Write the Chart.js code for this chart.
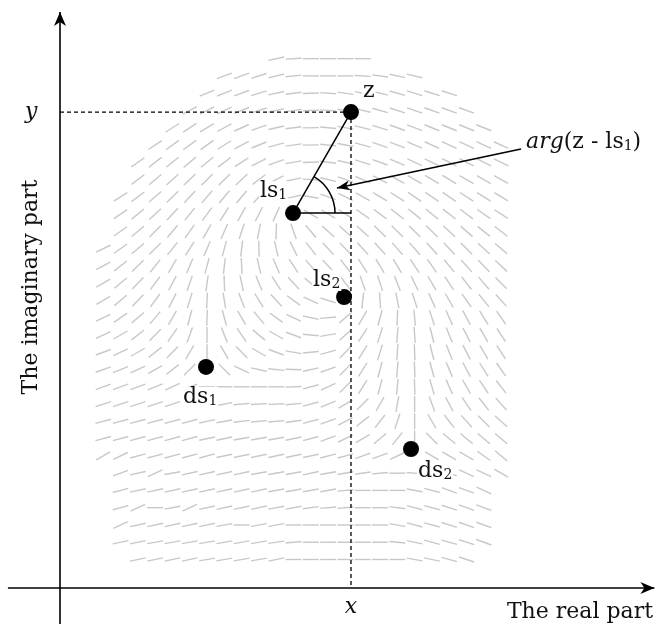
<!DOCTYPE html>
<html lang="en">
<head>
<meta charset="UTF-8">
<title>Orientation field and singular points</title>
<style>
    body {
        margin: 0;
        background: #fff;
    }
    #wrap {
        width: 656px;
        height: 624px;
    }
</style>
</head>
<body>
<div id="wrap">
    <canvas id="plane" width="656" height="624"></canvas>
</div>

<script src="https://cdn.jsdelivr.net/npm/chart.js@4"></script>
<script>
    // one unit = one step of the orientation grid, origin where the two axes cross
    const colX = [2.5, 3.5, 4.5, 5.5, 6.5, 7.5, 8.5, 9.5, 10.5, 11.5, 12.5, 13.5,
                  14.5, 15.5, 16.5, 17.5, 18.5, 19.5, 20.5, 21.5, 22.5, 23.5, 24.5, 25.5];
    const rowY = [30.65, 29.65, 28.65, 27.65, 26.65, 25.65, 24.65, 23.65, 22.65, 21.65,
                  20.65, 19.65, 18.65, 17.65, 16.65, 15.65, 14.65, 13.65, 12.65, 11.65,
                  10.65, 9.65, 8.65, 7.65, 6.65, 5.65, 4.65, 3.65, 2.65, 1.65];
    // first column used by each row
    const rowStart = [10, 7, 6, 5, 4, 3, 2, 2, 1, 1, 1, 0, 0, 0, 0, 0, 0, 0, 0, 0, 0, 0, 0, 0, 1, 1, 1, 1, 1, 2];
    // ridge direction in degrees (counter-clockwise from the real axis), null = under a dot
    const rowAngles = [
        [12, 3, 0, 0, 0, 0],
        [20, 20, 18, 14, 6, 0, 0, 0, -3, -8, -12, -13],
        [22, 22, 20, 17, 12, 7, 2, -4, -8, -11, -14, -16, -17, -18, -18],
        [28, 27, 25, 22, 18, 13, 8, 2, -4, -9, -13, -16, -18, -19, -20, -20, -20],
        [32, 33, 31, 28, 24, 19, 13, 7, 1, -5, -10, -14, -17, -20, -21, -22, -22, -22, -22],
        [34, 36, 36, 35, 32, 28, 22, 15, 8, 1, -6, -11, -15, -19, -21, -23, -24, -25, -25, -25, -24],
        [35, 38, 39, 40, 39, 37, 33, 27, 19, 10, 2, -7, -13, -17, -20, -23, -25, -26, -27, -27, -27, -26],
        [37, 40, 42, 44, 45, 45, 43, 37, 27, 12, -3, -13, -19, -24, -27, -29, -30, -31, -31, -30, -30, -29],
        [32, 37, 41, 44, 47, 49, 50, 50, 47, 37, 13, -10, -20, -26, -29, -31, -33, -34, -34, -34, -33, -32, -31],
        [34, 39, 43, 47, 51, 54, 57, 60, 63, 66, null, -30, -31, -33, -35, -37, -38, -39, -39, -38, -37, -35, -33],
        [35, 40, 45, 50, 55, 60, 66, 72, 79, 88, -70, -50, -42, -42, -43, -44, -45, -45, -44, -43, -41, -39, -37],
        [25, 35, 40, 45, 51, 58, 66, 75, 83, -88, -77, -64, -52, -47, -46, -47, -48, -49, -49, -48, -47, -45, -43, -40],
        [28, 38, 44, 52, 60, 67, 75, 83, -87, -77, -67, -57, -49, -47, -52, -57, -59, -59, -57, -55, -51, -48, -46, -43],
        [30, 40, 46, 53, 62, 71, 82, -88, -78, -68, -57, -47, -39, -38, -53, -71, -72, -69, -65, -60, -56, -52, -49, -45],
        [30, 40, 46, 54, 63, 73, 87, -81, -69, -58, -47, -36, -24, -18, null, 84, -86, -79, -72, -66, -60, -55, -51, -48],
        [25, 35, 40, 50, 60, 75, 88, -75, -60, -50, -36, -25, -12, 5, 40, 60, 75, 88, -85, -72, -66, -62, -58, -55],
        [25, 30, 38, 45, 55, 70, 90, -68, -55, -40, -30, -20, -5, 10, 42, 57, 72, 85, -86, -76, -68, -63, -60, -57],
        [20, 25, 30, 38, 45, 60, 90, -60, -45, -30, -20, -10, 5, 15, 45, 58, 73, 86, -88, -76, -68, -63, -60, -57],
        [20, 22, 25, 30, 38, 45, null, -45, -25, -12, -6, -2, 12, 20, 45, 58, 75, 85, -88, -75, -67, -62, -58, -55],
        [20, 20, 20, 22, 25, 20, 0, 0, 0, 0, 0, 2, 15, 25, 45, 58, 75, 85, -88, -74, -66, -60, -56, -52],
        [18, 18, 18, 18, 18, 15, 12, 10, 5, 3, 2, 5, 15, 22, 30, 45, 60, 80, 90, -70, -62, -56, -52, -48],
        [15, 15, 15, 15, 15, 15, 12, 10, 7, 5, 5, 8, 15, 20, 28, 38, 52, 72, 90, -60, -52, -48, -45, -42],
        [15, 15, 15, 15, 15, 15, 12, 12, 10, 10, 10, 12, 15, 20, 25, 30, 40, 52, 90, -45, -40, -40, -40, -40],
        [30, 25, 15, 15, 15, 15, 15, 12, 12, 12, 12, 12, 12, 15, 15, 20, 20, 25, null, -30, -30, -30, -35, -40],
        [20, 12, 25, 10, 12, 12, 12, 12, 10, 10, 10, 12, 10, 10, 8, 5, 0, -5, -15, -20, -25, -25, -30],
        [15, 12, 12, 12, 12, 12, 12, 12, 12, 10, 10, 10, 10, 5, 0, 0, 0, -10, -15, -20, -20, -25],
        [15, 25, 0, 10, 25, 12, 12, 12, 12, 10, 10, 8, 5, 5, 0, 0, -8, -15, -15, -18, -20, -20],
        [25, 12, 12, 12, 12, 12, 10, 0, 10, 10, 0, 0, 0, 0, 0, 0, -10, -15, -15, -18, -20, -20],
        [12, 12, 10, 10, 10, 10, 10, 10, 10, 8, 5, 0, 0, 0, 0, 0, -5, -12, -15, -15, -18, -20],
        [12, 12, 12, 12, 10, 10, 10, 10, 12, 0, 0, 0, 0, 0, 0, 0, -10, -12, -15, -18]
    ];

    // the point z and the singular points
    const pointNames = ['z', 'ls1', 'ls2', 'ds1', 'ds2'];
    const pointX = [16.82, 13.47, 16.42, 8.44, 20.29];
    const pointY = [27.56, 21.71, 16.85, 12.80, 8.05];

    // annotation arrow: from the label to the angle arc
    const arrowFrom = [26.65, 25.42];
    const arrowTo = [16.01, 23.16];

    // axes
    const realAxis = [-3.01, 34.36];
    const imagAxis = [-2.1, 33.35];

    const serif = '"DejaVu Serif", "Liberation Serif", serif';

    const field = [];
    const fieldRotation = [];
    rowAngles.forEach(function(row, r) {
        row.forEach(function(a, k) {
            if (a === null) return;
            field.push({ x: colX[rowStart[r] + k], y: rowY[r] });
            fieldRotation.push(-a);
        });
    });

    const pz = { x: pointX[0], y: pointY[0] };
    const pls1 = { x: pointX[1], y: pointY[1] };

    function seg(data, width, dash) {
        return {
            data: data,
            showLine: true,
            borderColor: '#000',
            borderWidth: width,
            borderDash: dash || [],
            pointRadius: 0,
            order: 5
        };
    }

    function arrowHead(ctx, tx, ty, fx, fy, len, half) {
        const a = Math.atan2(ty - fy, tx - fx);
        ctx.save();
        ctx.translate(tx, ty);
        ctx.rotate(a);
        ctx.beginPath();
        ctx.moveTo(0, 0);
        ctx.lineTo(-len, -half);
        ctx.lineTo(-len * 0.72, 0);
        ctx.lineTo(-len, half);
        ctx.closePath();
        ctx.fillStyle = '#000';
        ctx.fill();
        ctx.restore();
    }

    // text made of pieces: [text, size, italic, shift down]
    function rich(ctx, parts, x, y, align, backing) {
        let w = 0;
        parts.forEach(function(p) {
            ctx.font = (p[2] ? 'italic ' : '') + p[1] + 'px ' + serif;
            p.w = ctx.measureText(p[0]).width;
            w += p.w;
        });
        let left = x;
        if (align === 'right') left = x - w;
        if (align === 'center') left = x - w / 2;
        if (backing) {
            ctx.fillStyle = '#fff';
            ctx.fillRect(left - 1, y - 16, w + 2, 21);
        }
        ctx.fillStyle = '#111';
        ctx.textBaseline = 'alphabetic';
        ctx.textAlign = 'left';
        parts.forEach(function(p) {
            ctx.font = (p[2] ? 'italic ' : '') + p[1] + 'px ' + serif;
            ctx.fillText(p[0], left, y + p[3]);
            left += p.w;
        });
    }

    const decor = {
        id: 'decor',
        afterDatasetsDraw: function(chart) {
            const ctx = chart.ctx;
            const sx = chart.scales.x, sy = chart.scales.y;
            const X = v => sx.getPixelForValue(v);
            const Y = v => sy.getPixelForValue(v);

            // axis arrow heads
            arrowHead(ctx, X(realAxis[1]), Y(0), X(0), Y(0), 14, 6);
            arrowHead(ctx, X(0), Y(imagAxis[1]), X(0), Y(0), 14, 6);

            // angle arc at ls1
            const cx = X(pls1.x), cy = Y(pls1.y);
            const end = Math.atan2(Y(pz.y) - cy, X(pz.x) - cx);
            ctx.save();
            ctx.beginPath();
            ctx.arc(cx, cy, 42, end, 0, false);
            ctx.strokeStyle = '#000';
            ctx.lineWidth = 1.5;
            ctx.stroke();
            ctx.restore();

            // annotation arrow head
            arrowHead(ctx, X(arrowTo[0]), Y(arrowTo[1]), X(arrowFrom[0]), Y(arrowFrom[1]), 13, 5);

            // point labels
            const zx = X(pz.x), zy = Y(pz.y);
            rich(ctx, [['z', 22, false, 0]], zx + 12, zy - 15, 'left', true);
            rich(ctx, [['ls', 22, false, 0], ['1', 14, false, 2]], X(pointX[1]) - 33, Y(pointY[1]) - 16, 'left', true);
            rich(ctx, [['ls', 22, false, 0], ['2', 14, false, 2]], X(pointX[2]) - 31, Y(pointY[2]) - 11, 'left', true);
            rich(ctx, [['ds', 22, false, 0], ['1', 14, false, 2]], X(pointX[3]) - 23, Y(pointY[3]) + 36, 'left', true);
            rich(ctx, [['ds', 22, false, 0], ['2', 14, false, 2]], X(pointX[4]) + 7, Y(pointY[4]) + 28, 'left', true);

            rich(ctx, [['arg', 22, true, 0], ['(z - ls', 22, false, 0], ['1', 14, false, 2], [')', 22, false, 0]],
                 X(arrowFrom[0]) + 5, Y(arrowFrom[1]) - 1, 'left', false);

            // coordinate marks and axis titles
            rich(ctx, [['y', 22, true, 0]], 25, zy + 6, 'left', false);
            rich(ctx, [['x', 22, true, 0]], zx, 613, 'center', false);
            rich(ctx, [['The real part', 22, false, 0]], 653, 618, 'right', false);

            ctx.save();
            ctx.translate(37, 287);
            ctx.rotate(-Math.PI / 2);
            rich(ctx, [['The imaginary part', 22, false, 0]], 0, 0, 'center', false);
            ctx.restore();
        }
    };

    new Chart(document.getElementById('plane'), {
        type: 'scatter',
        data: {
            datasets: [
                {
                    // the black dots
                    data: pointX.map((x, i) => ({ x: x, y: pointY[i] })),
                    pointRadius: 8,
                    pointBackgroundColor: '#000',
                    pointBorderColor: '#000',
                    pointBorderWidth: 0,
                    order: 1
                },
                seg([{ x: realAxis[0], y: 0 }, { x: realAxis[1], y: 0 }], 1.6),
                seg([{ x: 0, y: imagAxis[0] }, { x: 0, y: imagAxis[1] }], 1.6),
                seg([{ x: 0, y: pz.y }, { x: pz.x, y: pz.y }], 1.3, [4, 3]),
                seg([{ x: pz.x, y: pz.y }, { x: pz.x, y: 0 }], 1.3, [4, 3]),
                seg([{ x: pls1.x, y: pls1.y }, { x: pz.x, y: pz.y }], 1.5),
                seg([{ x: pls1.x, y: pls1.y }, { x: pz.x, y: pls1.y }], 1.5),
                seg([{ x: arrowFrom[0], y: arrowFrom[1] }, { x: arrowTo[0], y: arrowTo[1] }], 1.6),
                {
                    // orientation field
                    data: field,
                    pointStyle: 'line',
                    pointRadius: 8,
                    pointRotation: fieldRotation,
                    pointBorderColor: '#c8c8c8',
                    pointBorderWidth: 1.4,
                    order: 10
                }
            ]
        },
        options: {
            responsive: false,
            animation: false,
            devicePixelRatio: 1,
            events: [],
            layout: { padding: 0, autoPadding: false },
            plugins: {
                legend: { display: false },
                tooltip: { enabled: false }
            },
            scales: {
                x: { type: 'linear', min: -3.468, max: 34.451, display: false },
                y: { type: 'linear', min: -2.0845, max: 34.047, display: false }
            }
        },
        plugins: [decor]
    });
</script>
</body>
</html>
